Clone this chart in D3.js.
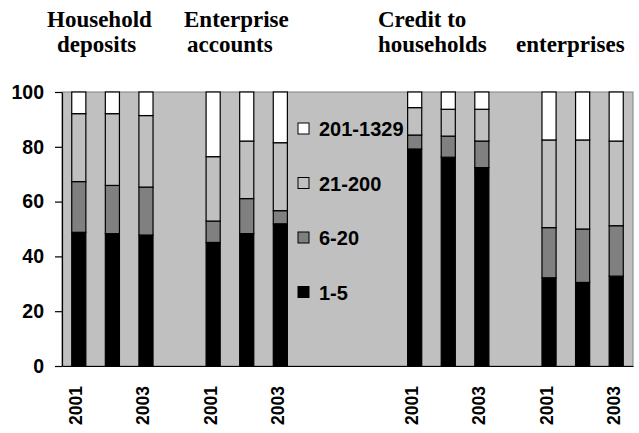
<!DOCTYPE html>
<html>
<head>
<meta charset="utf-8">
<script src="https://cdn.jsdelivr.net/npm/d3@7"></script>
<style>
  html, body { margin: 0; padding: 0; background: #ffffff; }
  svg { display: block; }
</style>
</head>
<body>
<div id="chart"></div>
<script>
// ---- Data ----
const slots = [
  "HD 2001", "HD 2002", "HD 2003", "gap1",
  "EA 2001", "EA 2002", "EA 2003", "gap2", "gap3", "gap4",
  "CH 2001", "CH 2002", "CH 2003", "gap5",
  "CE 2001", "CE 2002", "CE 2003"
];
const slotLabels = [
  "2001", "", "2003", "",
  "2001", "", "2003", "", "", "",
  "2001", "", "2003", "",
  "2001", "", "2003"
];
const barSlots = [
  "HD 2001", "HD 2002", "HD 2003",
  "EA 2001", "EA 2002", "EA 2003",
  "CH 2001", "CH 2002", "CH 2003",
  "CE 2001", "CE 2002", "CE 2003"
];
const seriesNames = ["1-5", "6-20", "21-200", "201-1329"];
const s1_5      = [48.8, 48.3, 47.8, 45.1, 48.3, 51.9, 79.2, 76.2, 72.4, 32.2, 30.5, 32.8];
const s6_20     = [18.5, 17.6, 17.5,  7.8, 12.8,  4.8,  5.1,  7.7,  9.7, 18.3, 19.5, 18.4];
const s21_200   = [24.8, 26.2, 26.1, 23.5, 21.0, 24.8, 10.0,  9.8, 11.6, 32.0, 32.5, 30.9];
const s201_1329 = [ 7.9,  7.9,  8.6, 23.6, 17.9, 18.5,  5.7,  6.3,  6.3, 17.5, 17.5, 17.9];
const yTicks = [0, 20, 40, 60, 80, 100];
const titleLines = [
  {text: "Household", x: 47, line: 0},
  {text: "deposits", x: 57, line: 1},
  {text: "Enterprise", x: 184, line: 0},
  {text: "accounts", x: 187, line: 1},
  {text: "Credit to", x: 378, line: 0},
  {text: "households", x: 378, line: 1},
  {text: "enterprises", x: 516, line: 1}
];

// ---- Styles ----
const colors = {"1-5": "#000000", "6-20": "#808080", "21-200": "#c0c0c0", "201-1329": "#ffffff"};
const W = 639, H = 433;
const plot = {left: 62, right: 633, top: 92, bottom: 366};

const svg = d3.select("#chart").append("svg")
  .attr("width", W).attr("height", H);

const x = d3.scaleBand().domain(slots).range([plot.left, plot.right])
  .paddingInner(0.58).paddingOuter(0.29);
const y = d3.scaleLinear().domain([0, 100]).range([plot.bottom, plot.top]);

// Plot background
svg.append("rect")
  .attr("x", plot.left).attr("y", plot.top)
  .attr("width", plot.right - plot.left).attr("height", plot.bottom - plot.top)
  .attr("fill", "#c0c0c0").attr("stroke", "#808080").attr("stroke-width", 1);

// Stack
const rows = barSlots.map((s, i) => ({
  slot: s, "1-5": s1_5[i], "6-20": s6_20[i], "21-200": s21_200[i], "201-1329": s201_1329[i]
}));
const stacked = d3.stack().keys(seriesNames)(rows);

const layers = svg.append("g").selectAll("g").data(stacked).join("g")
  .attr("fill", d => colors[d.key]);
layers.selectAll("rect").data(d => d).join("rect")
  .attr("x", d => x(d.data.slot))
  .attr("width", x.bandwidth())
  .attr("y", d => y(d[1]))
  .attr("height", d => y(d[0]) - y(d[1]))
  .attr("stroke", "#000").attr("stroke-width", 1.2);

// Y axis
const yAxis = svg.append("g")
  .attr("transform", `translate(${plot.left},0)`)
  .call(d3.axisLeft(y).tickValues(yTicks).tickSize(7).tickPadding(11).tickSizeOuter(0));
yAxis.select(".domain").attr("stroke", "#000").attr("stroke-width", 1.2);
yAxis.selectAll(".tick line").attr("stroke", "#000").attr("stroke-width", 1.2);
yAxis.selectAll("text")
  .attr("font-family", "'Liberation Sans', Arial, sans-serif")
  .attr("font-weight", "bold").attr("font-size", 19.5).attr("fill", "#000");

// X axis
const xAxis = svg.append("g")
  .attr("transform", `translate(0,${plot.bottom})`)
  .call(d3.axisBottom(x).tickSize(0).tickSizeOuter(0).tickFormat((d, i) => slotLabels[i]));
xAxis.select(".domain").attr("stroke", "#000").attr("stroke-width", 1.2);
xAxis.selectAll("text")
  .attr("font-family", "'Liberation Sans', Arial, sans-serif")
  .attr("font-weight", "bold").attr("font-size", 17.5).attr("fill", "#000")
  .attr("text-anchor", "end")
  .attr("transform", "translate(0,20) rotate(-90)")
  .attr("x", 0).attr("y", 0).attr("dy", "0.2em");

// Legend (top to bottom: reverse series order)
const legendItems = seriesNames.slice().reverse();
const legend = svg.append("g").attr("transform", "translate(298,123)");
const li = legend.selectAll("g").data(legendItems).join("g")
  .attr("transform", (d, i) => `translate(0,${i * 54.5})`);
li.append("rect").attr("x", 0).attr("y", 0).attr("width", 11).attr("height", 11)
  .attr("fill", d => colors[d]).attr("stroke", "#000").attr("stroke-width", 1);
li.append("text").attr("x", 21).attr("y", 13)
  .attr("font-family", "'Liberation Sans', Arial, sans-serif")
  .attr("font-weight", "bold").attr("font-size", 20).attr("fill", "#000")
  .text(d => d);

// Titles
svg.append("g").selectAll("text").data(titleLines).join("text")
  .attr("x", d => d.x).attr("y", d => 27 + d.line * 25)
  .attr("font-family", "'Liberation Serif', 'Times New Roman', serif")
  .attr("font-weight", "bold").attr("font-size", 23).attr("fill", "#000")
  .text(d => d.text);
</script>
</body>
</html>
